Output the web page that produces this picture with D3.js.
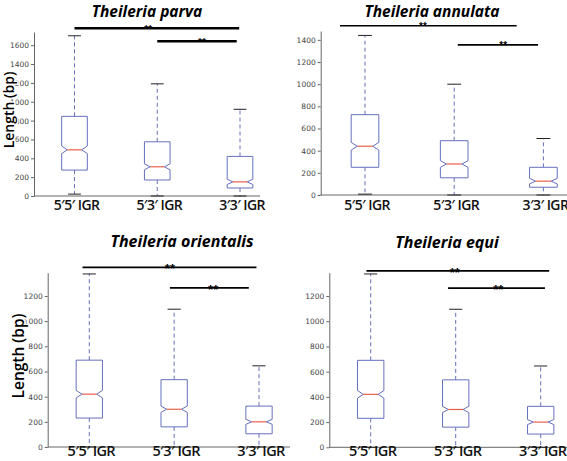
<!DOCTYPE html>
<html><head><meta charset="utf-8">
<script src="https://cdn.jsdelivr.net/npm/d3@7"></script>
<style>body{margin:0;background:#fff}svg{display:block}.star{font-variant-emoji:text}</style>
</head><body>
<script>
// ---------- data ----------
const categories = ["5′5′ IGR", "5′3′ IGR", "3′3′ IGR"];
const species = ["Theileria parva", "Theileria annulata", "Theileria orientalis", "Theileria equi"];
const yTicks = [
  [0, 200, 400, 600, 800, 1000, 1200, 1400, 1600],
  [0, 200, 400, 600, 800, 1000, 1200, 1400],
  [0, 200, 400, 600, 800, 1000, 1200],
  [0, 200, 400, 600, 800, 1000, 1200]
];
const yMax = [1740, 1480, 1385, 1385];
const whiskerLow  = [[20, 0, 0], [8, 0, 0], [0, 0, 0], [0, 0, 0]];
const q1          = [[275, 170, 85], [250, 155, 70], [230, 160, 105], [230, 160, 105]];
const median      = [[490, 310, 150], [440, 280, 125], [420, 300, 200], [420, 300, 200]];
const q3          = [[845, 575, 420], [725, 490, 250], [690, 535, 325], [690, 535, 325]];
const whiskerHigh = [[1700, 1190, 920], [1440, 1000, 510], [1375, 1095, 645], [1375, 1095, 645]];
const notchHalf   = [[40, 32, 28], [35, 30, 25], [30, 25, 20], [30, 25, 20]];
// significance bars (x in category-index units, level in bp)
const sigStart = [[0.0, 1.0], [-0.28, 1.04], [-0.08, 0.95], [-0.05, 0.91]];
const sigEnd   = [[1.99, 1.96], [1.70, 1.94], [1.97, 1.88], [2.10, 2.05]];
const sigLevel = [[1780, 1642], [1527, 1355], [1428, 1264], [1399, 1262]];
const starPos  = [[0.89, 1.54], [0.65, 1.55], [0.95, 1.46], [0.99, 1.50]];
const sigLabel = ["**", "**"];

// ---------- layout ----------
const layout = [
  {axisX: 34,    c0: 74.5,  step: 82.75, y0: 196,   top: 32,    right: 260, titleX: 147, titleY: 17,  yLabel: true,  yLabX: 8,  yLabY: 110, yLabSize: 14, xLabY: 210, xLabSize: 14, starSize: 10,  sigW: 2.5, titleSize: 15.5},
  {axisX: 320.7, c0: 365,   step: 89.2,  y0: 195,   top: 31,    right: 567, titleX: 432, titleY: 16.5, yLabel: false, xLabY: 210, xLabSize: 14, starSize: 10, sigW: 1.6, titleSize: 15.5},
  {axisX: 47.7,  c0: 89.3,  step: 84.85, y0: 447,   top: 272.7, right: 290, titleX: 182, titleY: 247, yLabel: true,  yLabX: 18, yLabY: 356, yLabSize: 15.5, xLabY: 456, xLabSize: 14.5, starSize: 13, sigW: 1.8, titleSize: 16},
  {axisX: 329.3, c0: 370.7, step: 85,    y0: 447.3, top: 272.7, right: 567, titleX: 447, titleY: 248, yLabel: false, xLabY: 456, xLabSize: 14.5, starSize: 13, sigW: 1.8, titleSize: 16}
];

const boxColor = "#6570bd";
const medColor = "#e8604c";
const font = "'Open Sans', 'DejaVu Sans', sans-serif";

const svg = d3.select("body").append("svg").attr("width", 567).attr("height", 461);

layout.forEach((L, p) => {
  const g = svg.append("g");
  const x = d3.scaleLinear().domain([0, 1]).range([L.c0, L.c0 + L.step]);
  const y = d3.scaleLinear().domain([0, yMax[p]]).range([L.y0, L.top]);
  const w = L.step * 0.31;
  const inset = w * 0.22;

  // axes
  const ax = g.append("g").attr("transform", `translate(${L.axisX},0)`)
    .call(d3.axisLeft(y).tickValues(yTicks[p]).tickFormat(d3.format("d")).tickSize(3).tickSizeOuter(0).tickPadding(2));
  ax.select(".domain").attr("stroke", "#666");
  ax.selectAll(".tick line").attr("stroke", "#666");
  ax.selectAll(".tick text").attr("font-family", "'DejaVu Sans', sans-serif").attr("font-size", 7.5).attr("fill", "#444");
  g.append("line").attr("x1", L.axisX).attr("x2", L.right).attr("y1", L.y0).attr("y2", L.y0)
    .attr("stroke", "#666").attr("stroke-width", 1);

  categories.forEach((c, i) => {
    const cx = x(i), lft = cx - w / 2, rgt = cx + w / 2;
    const nlo = median[p][i] - notchHalf[p][i], nhi = median[p][i] + notchHalf[p][i];
    // whiskers
    g.append("line").attr("x1", cx).attr("x2", cx).attr("y1", y(q3[p][i])).attr("y2", y(whiskerHigh[p][i]))
      .attr("stroke", boxColor).attr("stroke-width", 1).attr("stroke-dasharray", "4,3");
    g.append("line").attr("x1", cx).attr("x2", cx).attr("y1", y(q1[p][i])).attr("y2", y(whiskerLow[p][i]))
      .attr("stroke", boxColor).attr("stroke-width", 1).attr("stroke-dasharray", "4,3");
    // caps
    [whiskerHigh[p][i], whiskerLow[p][i]].forEach(v => {
      g.append("line").attr("x1", cx - w / 4).attr("x2", cx + w / 4).attr("y1", y(v)).attr("y2", y(v))
        .attr("stroke", "#222").attr("stroke-width", 1);
    });
    // notched box
    const pts = [
      [lft, y(q1[p][i])], [lft, y(nlo)], [lft + inset, y(median[p][i])], [lft, y(nhi)], [lft, y(q3[p][i])],
      [rgt, y(q3[p][i])], [rgt, y(nhi)], [rgt - inset, y(median[p][i])], [rgt, y(nlo)], [rgt, y(q1[p][i])]
    ];
    g.append("path").attr("d", d3.line()(pts) + "Z").attr("fill", "#fff")
      .attr("stroke", boxColor).attr("stroke-width", 1);
    g.append("line").attr("x1", lft + inset).attr("x2", rgt - inset)
      .attr("y1", y(median[p][i])).attr("y2", y(median[p][i]))
      .attr("stroke", medColor).attr("stroke-width", 1.2);
    // category label
    g.append("text").attr("x", cx + 2).attr("y", L.xLabY).attr("text-anchor", "middle")
      .attr("font-family", font).attr("font-weight", 600).attr("font-size", L.xLabSize)
      .attr("letter-spacing", -0.6).attr("fill", "#111").text(c);
  });

  // significance bars
  sigLabel.forEach((s, k) => {
    g.append("line").attr("x1", x(sigStart[p][k])).attr("x2", x(sigEnd[p][k]))
      .attr("y1", y(sigLevel[p][k])).attr("y2", y(sigLevel[p][k]))
      .attr("stroke", "#000").attr("stroke-width", L.sigW);
    g.append("text").attr("class", "star").attr("x", x(starPos[p][k])).attr("y", y(sigLevel[p][k]) + L.starSize * 0.45)
      .attr("text-anchor", "middle").attr("font-family", "'Liberation Sans', Arial, sans-serif").attr("font-weight", "bold")
      .attr("font-size", L.starSize).attr("fill", "#000")
      .text(s);
  });

  // title
  g.append("text").attr("x", L.titleX).attr("y", L.titleY).attr("text-anchor", "middle")
    .attr("font-family", font).attr("font-weight", 700).attr("font-style", "italic")
    .attr("font-size", L.titleSize).attr("fill", "#000").text(species[p]);

  // y label
  if (L.yLabel) {
    g.append("text").attr("transform", `translate(${L.yLabX},${L.yLabY}) rotate(-90)`)
      .attr("text-anchor", "middle").attr("dominant-baseline", "central")
      .attr("font-family", font).attr("font-weight", 600).attr("font-size", L.yLabSize)
      .attr("fill", "#000").attr("stroke", "#fff").attr("stroke-width", 3).attr("paint-order", "stroke")
      .text("Length (bp)");
  }
});
</script>
</body></html>
